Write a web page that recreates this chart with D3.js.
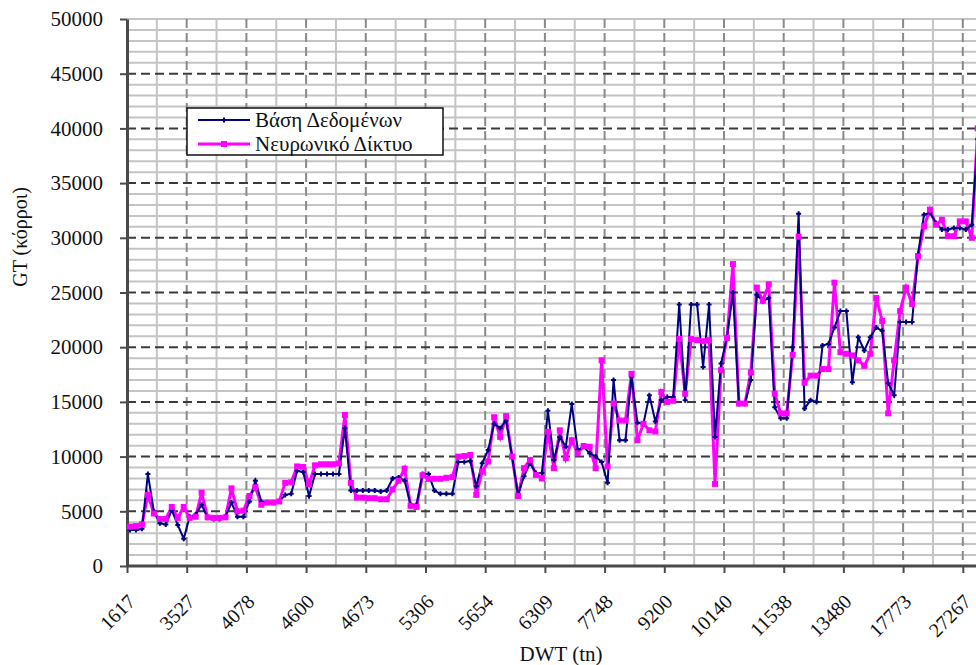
<!DOCTYPE html>
<html>
<head>
<meta charset="utf-8">
<script src="https://cdn.jsdelivr.net/npm/d3@7"></script>
<style>
  body { margin: 0; background: #fff; }
  svg { display: block; }
  svg text { font-family: "Liberation Serif", "DejaVu Serif", serif; }
</style>
</head>
<body>
<div id="chart"></div>
<script>
// labelled categories (every 10th DWT value)
var xLabels = ["1617", "3527", "4078", "4600", "4673", "5306", "5654", "6309",
               "7748", "9200", "10140", "11538", "13480", "17773", "27267"];
var yTicks = [0, 5000, 10000, 15000, 20000, 25000, 30000, 35000, 40000, 45000, 50000];

// Βάση Δεδομένων
var dbValues = [
  3300, 3300, 3400, 8400, 5000, 3900, 3800, 5100, 3750, 2500,
  4500, 4700, 5600, 4400, 4300, 4300, 4500, 5800, 4500, 4500,
  5900, 7800, 5900, 5800, 5800, 5900, 6500, 6600, 8700, 8600,
  6400, 8400, 8400, 8400, 8400, 8400, 12600, 6900, 6900, 6900,
  6900, 6900, 6800, 6900, 8000, 8100, 7800, 5600, 5600, 8400,
  8400, 6900, 6600, 6600, 6600, 9500, 9500, 9600, 7300, 9400,
  10600, 13000, 12600, 13300, 10000, 6500, 8200, 9400, 8500, 8500,
  14200, 9700, 11800, 10900, 14800, 10600, 10900, 10300, 10000, 9500,
  7600, 17000, 11500, 11500, 17300, 13100, 13000, 15600, 13200, 15150,
  15450, 15450, 23900, 15150, 23900, 23900, 18200, 23900, 11800, 18500,
  20900, 25000, 14800, 14800, 17000, 24800, 24200, 24500, 14500, 13500,
  13500, 20000, 32200, 14400, 15150, 15000, 20150, 20300, 21800, 23300,
  23300, 16800, 20900, 19700, 20900, 21800, 21500, 16700, 15600, 22300,
  22300, 22300, 28500, 32100, 32300, 31350, 30750, 30750, 30900, 30900,
  30750, 31200, 39000
];

// Νευρωνικό Δίκτυο
var nnValues = [
  3600, 3650, 3800, 6500, 4800, 4300, 4300, 5400, 4400, 5400,
  4400, 4500, 6700, 4450, 4400, 4400, 4450, 7100, 5000, 5060,
  6400, 7200, 5600, 5800, 5800, 5900, 7600, 7650, 9100, 9060,
  7500, 9200, 9300, 9300, 9300, 9370, 13800, 7600, 6250, 6250,
  6200, 6200, 6100, 6100, 7000, 7800, 8900, 5500, 5400, 8300,
  7970, 7970, 7970, 8060, 8120, 10000, 10060, 10150, 6500, 8640,
  9550, 13600, 11800, 13700, 10000, 6400, 8940, 9700, 8330, 8000,
  12270, 8940, 12400, 9850, 11500, 10300, 10970, 10900, 8940, 18800,
  9100, 14850, 13300, 13300, 17570, 11500, 13000, 12400, 12300, 15900,
  15000, 15100, 20750, 15750, 20750, 20650, 20550, 20650, 7500, 17900,
  20850, 27600, 14850, 14850, 17700, 25450, 24250, 25750, 15750, 13950,
  13950, 19300, 30100, 16750, 17400, 17400, 18000, 18000, 25900, 19550,
  19400, 19250, 18800, 18300, 19400, 24500, 22400, 13950, 18800, 23300,
  25450, 23950, 28300, 31050, 32570, 31200, 31650, 30150, 30150, 31500,
  31500, 30000, 40000
];

var width = 976,
    height = 665,
    margin = {top: 19, left: 127, bottom: 99},
    step = 5.97,
    n = dbValues.length;

var svg = d3.select("#chart").append("svg")
  .attr("width", width)
  .attr("height", height);

var x = d3.scaleLinear().domain([0, n]).range([margin.left, margin.left + n * step]);
var y = d3.scaleLinear().domain([0, 50000]).range([height - margin.bottom, margin.top]);

var plot = svg.append("g");

// light gridlines
plot.selectAll(".hminor")
  .data(d3.range(1000, 50001, 1000).filter(d => d % 5000 !== 0 || d === 50000))
  .enter().append("line")
  .attr("x1", margin.left).attr("x2", width)
  .attr("y1", d => y(d)).attr("y2", d => y(d))
  .attr("stroke", "#c4c4c4").attr("stroke-width", 2);

plot.selectAll(".vminor")
  .data(d3.range(5, n, 10))
  .enter().append("line")
  .attr("x1", d => x(d)).attr("x2", d => x(d))
  .attr("y1", y(50000)).attr("y2", y(0))
  .attr("stroke", "#c4c4c4").attr("stroke-width", 2);

// dashed gridlines
plot.selectAll(".vmajor")
  .data(d3.range(10, n, 10))
  .enter().append("line")
  .attr("x1", d => x(d)).attr("x2", d => x(d))
  .attr("y1", y(50000)).attr("y2", y(0))
  .attr("stroke", "#8a8a8a").attr("stroke-width", 2)
  .attr("stroke-dasharray", "9,5");

plot.selectAll(".hmajor")
  .data(yTicks.filter(d => d > 0 && d < 50000))
  .enter().append("line")
  .attr("x1", margin.left).attr("x2", width)
  .attr("y1", d => y(d)).attr("y2", d => y(d))
  .attr("stroke", "#3a3a3a").attr("stroke-width", 2)
  .attr("stroke-dasharray", "9,5");

// axes
var yAxis = svg.append("g")
  .attr("transform", `translate(${margin.left},0)`)
  .call(d3.axisLeft(y).tickValues(yTicks).tickFormat(d3.format("d"))
    .tickSize(7).tickPadding(17).tickSizeOuter(0));
yAxis.attr("font-family", null);
yAxis.select(".domain").attr("stroke", "#4a4a4a").attr("stroke-width", 3);
yAxis.selectAll(".tick line").attr("stroke", "#4a4a4a").attr("stroke-width", 2);
yAxis.selectAll("text").style("font-size", "21px").attr("fill", "#111");

var xAxis = svg.append("g")
  .attr("transform", `translate(0,${y(0)})`)
  .call(d3.axisBottom(x).tickValues(d3.range(0, n, 10)).tickSize(7).tickSizeOuter(0)
    .tickFormat(d => xLabels[d / 10]));
xAxis.attr("font-family", null);
xAxis.select(".domain").attr("d", `M${margin.left},0H${width}`)
  .attr("stroke", "#4a4a4a").attr("stroke-width", 3);
xAxis.selectAll(".tick line").attr("stroke", "#4a4a4a").attr("stroke-width", 2);
xAxis.selectAll("text")
  .attr("y", 0).attr("dy", "0.35em")
  .attr("text-anchor", "end")
  .attr("transform", "translate(4,32) rotate(-45)")
  .style("font-size", "20px").attr("fill", "#111");

// series
var line = d3.line()
  .x((d, i) => x(i + 0.5))
  .y(d => y(d));

svg.append("path").datum(nnValues)
  .attr("d", line).attr("fill", "none")
  .attr("stroke", "#ff00ff").attr("stroke-width", 3);

svg.append("path").datum(dbValues)
  .attr("d", line).attr("fill", "none")
  .attr("stroke", "#000080").attr("stroke-width", 2);

svg.selectAll(".dbmark")
  .data(dbValues)
  .enter().append("path")
  .attr("d", (d, i) => `M${x(i + 0.5) - 2.5},${y(d)}h5M${x(i + 0.5)},${y(d) - 2.5}v5`)
  .attr("stroke", "#000080").attr("stroke-width", 2);

svg.selectAll(".nnmark")
  .data(nnValues)
  .enter().append("rect")
  .attr("x", (d, i) => x(i + 0.5) - 3)
  .attr("y", d => y(d) - 3)
  .attr("width", 6).attr("height", 6)
  .attr("fill", "#ff00ff");

// axis titles
svg.append("text")
  .attr("transform", `translate(27,237) rotate(-90)`)
  .attr("text-anchor", "middle")
  .style("font-size", "20px").attr("fill", "#111")
  .text("GT (κόρροι)");

svg.append("text")
  .attr("x", 561).attr("y", 661)
  .attr("text-anchor", "middle")
  .style("font-size", "21px").attr("fill", "#111")
  .text("DWT (tn)");

// legend
var legend = svg.append("g");
legend.append("rect")
  .attr("x", 187).attr("y", 108).attr("width", 256).attr("height", 47)
  .attr("fill", "#fff").attr("stroke", "#111").attr("stroke-width", 1.5);

legend.append("line").attr("x1", 198).attr("x2", 250).attr("y1", 120).attr("y2", 120)
  .attr("stroke", "#000080").attr("stroke-width", 2);
legend.append("path").attr("d", "M221.5,120h5M224,117.5v5")
  .attr("stroke", "#000080").attr("stroke-width", 2);
legend.append("line").attr("x1", 198).attr("x2", 250).attr("y1", 144).attr("y2", 144)
  .attr("stroke", "#ff00ff").attr("stroke-width", 3);
legend.append("rect").attr("x", 221).attr("y", 141).attr("width", 6).attr("height", 6)
  .attr("fill", "#ff00ff");

legend.append("text").attr("x", 255).attr("y", 120).attr("dy", "0.35em")
  .style("font-size", "21px").attr("fill", "#111").text("Βάση Δεδομένων");
legend.append("text").attr("x", 255).attr("y", 144).attr("dy", "0.35em")
  .style("font-size", "21px").attr("fill", "#111").text("Νευρωνικό Δίκτυο");
</script>
</body>
</html>
